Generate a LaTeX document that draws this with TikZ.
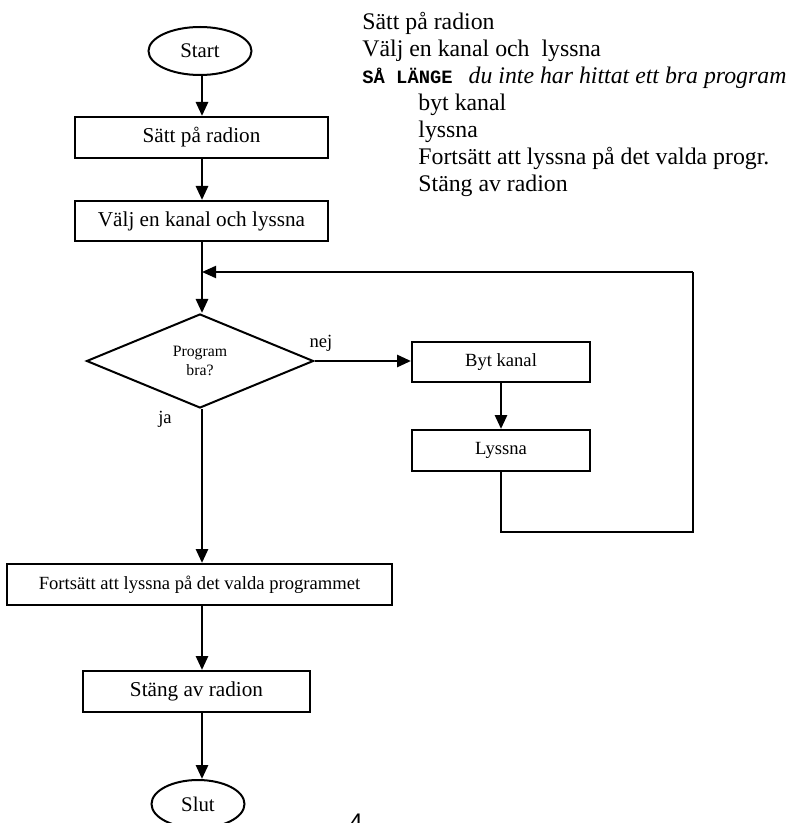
\documentclass[tikz,border=0pt]{standalone}
\usepackage{fontspec}
\setmainfont{Liberation Serif}
\setmonofont{Liberation Mono}
\newfontfamily\digitfont{Liberation Sans}
\usetikzlibrary{shapes.geometric,arrows.meta}
\begin{document}
\begin{tikzpicture}[x=0.5pt,y=-0.5pt,
  box/.style={draw, line width=1pt, inner sep=0pt, minimum height=20.5pt, font=\fontsize{10.6}{12}\selectfont},
  smallbox/.style={box, font=\fontsize{9.3}{11}\selectfont},
  term/.style={draw, ellipse, line width=1pt, inner sep=0pt, minimum height=24pt, font=\fontsize{10.4}{12}\selectfont},
  label/.style={inner sep=0pt, font=\fontsize{9.3}{11}\selectfont},
  flow/.style={line width=1.4pt, -{Triangle[length=7pt,width=6pt]}},
  back/.style={line width=1pt}]
\useasboundingbox (0,0) rectangle (797,823);
% MAIN COLUMN
\coordinate (col) at (202,0);
\node[term, minimum width=51.5pt] at (200,51) (start) {Start};
\node[box, minimum width=126.5pt] at (201.5,137.5) (radio_on) {Sätt på radion};
\node[box, minimum width=126.5pt, minimum height=20pt] at (201.5,221) (channel) {Välj en kanal och lyssna};
\node[draw, diamond, line width=1pt, inner sep=0pt, aspect=2.4,
      minimum width=113.5pt, minimum height=47pt, align=center,
      font=\fontsize{7.9}{9.5}\selectfont] at (200,361) (decision) {Program\\bra?};
\node[smallbox, minimum width=192.5pt] at (199.5,584.5) (keep) {Fortsätt att lyssna på det valda programmet};
\node[box, minimum width=113.5pt] at (196.5,691.5) (radio_off) {Stäng av radion};
\node[term, minimum width=46.5pt] at (198,804) (stop) {Slut};
% SIDE BRANCH
\node[smallbox, minimum width=89pt, minimum height=20pt] at (501,362) (switch) {Byt kanal};
\node[smallbox, minimum width=89pt] at (501,450.5) (listen) {Lyssna};
% TEXT
\node[label] at (321,343) (no) {nej};
\node[label] at (165,419) (yes) {ja};
\node[anchor=north west, align=left, inner sep=0pt, font=\fontsize{11.9}{13.5}\selectfont] at (362,12) (pseudo)
  {Sätt på radion\\
   Välj en kanal och\ \ lyssna\\
   {\ttfamily\bfseries\fontsize{9.4}{11}\selectfont SÅ LÄNGE}\hspace{8pt}\textit{du inte har hittat ett bra program}\\
   \hspace{28pt}byt kanal\\
   \hspace{28pt}lyssna\\
   \hspace{28pt}Fortsätt att lyssna på det valda progr.\\
   \hspace{28pt}Stäng av radion};
\node[anchor=base west, inner sep=0pt, font=\digitfont\fontsize{12}{14}\selectfont] at (349,830) (pagenum) {4};
% ARROWS
\draw[flow] (start.south -| col) -- (radio_on.north -| col);
\draw[flow] (radio_on.south -| col) -- (channel.north -| col);
\draw[flow] (channel.south -| col) -- (decision.north -| col);
\draw[flow] (decision.east) -- (decision.east -| switch.west);
\draw[flow] (switch.south) -- (listen.north);
\draw[flow] (decision.south -| col) -- (keep.north -| col);
\draw[flow] (keep.south -| col) -- (radio_off.north -| col);
\draw[flow] (radio_off.south -| col) -- (stop.north -| col);
% LOOP BACK
\coordinate (loop_br) at (693,532);
\coordinate (loop_tr) at (693,272);
\coordinate (join) at (202,272);
\draw[back] (listen.south) |- (loop_br) -- (loop_tr);
\draw[flow, line width=1pt] (loop_tr) -- (join);
\end{tikzpicture}
\end{document}
